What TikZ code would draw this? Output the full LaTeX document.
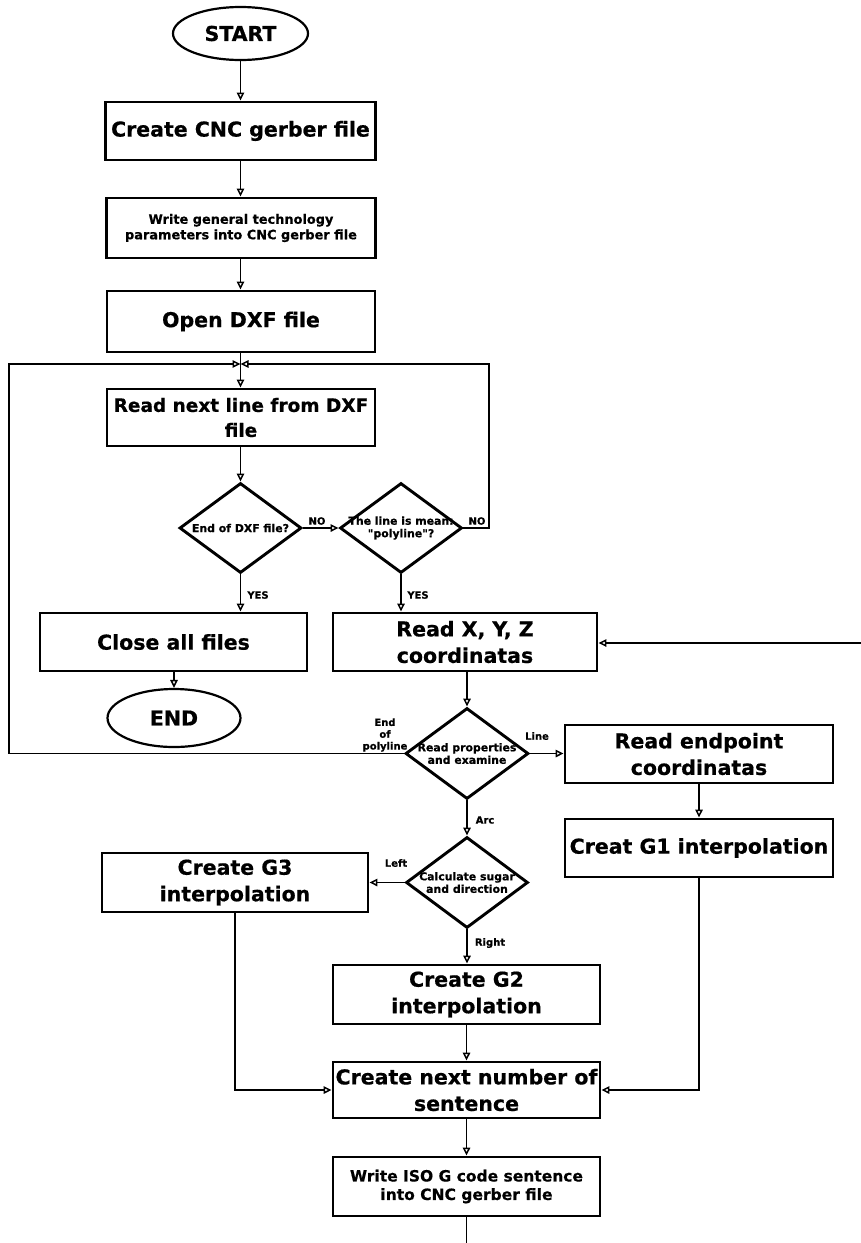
\documentclass[tikz,border=0pt]{standalone}
\usepackage{fontspec}
\setmainfont{DejaVu Sans}[Ligatures=TeXOff, BoldFeatures={FakeBold=0.6}]
\usetikzlibrary{shapes.geometric,arrows.meta}

\newcommand{\bigtxt}{\fontsize{20.5}{26.5}\selectfont\bfseries}
\newcommand{\midtxt}{\fontsize{18.5}{25}\selectfont\bfseries}
\newcommand{\smalltxt}{\fontsize{12.9}{15.5}\selectfont\bfseries}
\newcommand{\isotxt}{\fontsize{15.5}{18.5}\selectfont\bfseries}
\newcommand{\dtxt}{\fontsize{10.9}{12.5}\selectfont\bfseries}
\newcommand{\lbltxt}{\fontsize{10}{11.8}\selectfont\bfseries}

\tikzset{
  x=1pt, y=-1pt,
  procbox/.style={draw, line width=2.9pt, rectangle, inner sep=0pt, align=center},
  terminal/.style={draw, line width=2.2pt, ellipse, inner sep=0pt,
    minimum width=135pt, minimum height=53pt, font=\bigtxt},
  decision/.style={draw, line width=2.9pt, diamond, inner sep=0pt,
    minimum width=122pt, minimum height=90pt},
  dlabel/.style={inner sep=0pt, align=center, font=\dtxt},
  flowlabel/.style={inner sep=0pt, align=center, font=\lbltxt},
  flow/.style={line width=1.5pt, -{Triangle[open,length=8pt,width=7.5pt,line width=1.5pt]}},
  plain/.style={line width=1.5pt},
}

\begin{document}
\begin{tikzpicture}
\useasboundingbox (0,0) rectangle (861,1243);

% terminals
\node[terminal] (start) at (240.5,33.5) {START};
\node[terminal, minimum width=133pt, minimum height=58pt] (end) at (174,718) {END};

% upper column
\node[procbox, minimum width=270pt, minimum height=58pt, font=\bigtxt] (cnc) at (240.5,131) {Create CNC gerber file};
\node[procbox, minimum width=269pt, minimum height=60pt, font=\smalltxt] (params) at (241,228) {Write general technology\\parameters into CNC gerber file};
\node[procbox, minimum width=268pt, minimum height=61pt, font=\bigtxt] (open) at (241,321.5) {Open DXF file};
\node[procbox, minimum width=268pt, minimum height=57pt, font=\midtxt] (readln) at (241,417.5) {Read next line from DXF\\file};

% first decisions
\node[decision] (eof) at (240.5,528) {};
\node[dlabel] at (eof.center) {End of DXF file?};
\node[decision] (poly) at (401,528) {};
\node[dlabel] at (poly.center) {The line is mean:\\"polyline"?};

\node[procbox, minimum width=267pt, minimum height=58pt, font=\bigtxt] (close) at (173.5,642) {Close all files};
\node[procbox, minimum width=264pt, minimum height=58pt, font=\bigtxt] (xyz) at (465,642) {Read X, Y, Z\\coordinatas};

% element type
\node[decision, minimum width=123pt, minimum height=91pt] (prop) at (467,753.5) {};
\node[dlabel] at (prop.center) {Read properties\\and examine};
\node[procbox, minimum width=268pt, minimum height=58pt, font=\bigtxt] (endpt) at (699,754) {Read endpoint\\coordinatas};
\node[procbox, minimum width=268pt, minimum height=58pt, font=\bigtxt] (gone) at (699,848) {Creat G1 interpolation};

\node[decision, minimum width=122pt, minimum height=91pt] (dir) at (467,882.5) {};
\node[dlabel] at (dir.center) {Calculate sugar\\and direction};
\node[procbox, minimum width=266pt, minimum height=59pt, font=\bigtxt] (gthree) at (235,882.5) {Create G3\\interpolation};
\node[procbox, minimum width=267pt, minimum height=59pt, font=\bigtxt] (gtwo) at (466.5,994.5) {Create G2\\interpolation};

% output
\node[procbox, minimum width=267pt, minimum height=56pt, font=\bigtxt] (next) at (466.5,1090) {Create next number of\\sentence};
\node[procbox, minimum width=267pt, minimum height=59pt, font=\isotxt] (iso) at (466.5,1186.5) {Write ISO G code sentence\\into CNC gerber file};

% loop points
\coordinate (join) at (240.5,364);
\coordinate (loopR) at (489,364);
\coordinate (loopL) at (9,364);
\coordinate (feedin) at (861,643);
\coordinate (feedout) at (466.5,1243);

% main column
\draw[flow] (start) -- (cnc);
\draw[flow] (cnc.south -| start) -- (params.north -| start);
\draw[flow] (params.south -| start) -- (open.north -| start);
\draw[flow] (open.south -| start) -- (readln.north -| start);
\draw[flow] (readln.south -| eof) -- (eof.north);

\draw[flow] (eof.east) -- (poly.west);
\draw[flow] (poly.east) -| (loopR) -- (join);
\draw[flow] (eof.south) -- (eof.south |- close.north);
\draw[flow] (poly.south) -- (poly.south |- xyz.north);
\draw[flow] (close.south -| end) -- (end.north);

\draw[flow] (feedin) -- (xyz.east |- feedin);
\draw[flow] (prop.north |- xyz.south) -- (prop.north);
\draw[flow] (prop.west) -| (loopL) -- (join);
\draw[flow] (prop.east) -- (endpt.west |- prop.east);
\draw[flow] (prop.south) -- (dir.north);
\draw[flow] (endpt.south) -- (gone.north);

\draw[flow] (dir.west) -- (gthree.east |- dir.west);
\draw[flow] (dir.south) -- (gtwo.north -| dir.south);
\draw[flow] (gtwo.south) -- (next.north);
\draw[flow] (gthree.south) |- (next.west);
\draw[flow] (gone.south) |- (next.east);
\draw[flow] (next.south) -- (iso.north);
\draw[plain] (iso.south) -- (feedout);

% branch labels
\node[flowlabel] at (317,521) {NO};
\node[flowlabel] at (477,521) {NO};
\node[flowlabel] at (258,595) {YES};
\node[flowlabel] at (418,595) {YES};
\node[flowlabel] at (385,735) {End\\of\\polyline};
\node[flowlabel] at (537,736) {Line};
\node[flowlabel] at (485,820) {Arc};
\node[flowlabel] at (396,863) {Left};
\node[flowlabel] at (490,943) {Right};
\end{tikzpicture}
\end{document}
